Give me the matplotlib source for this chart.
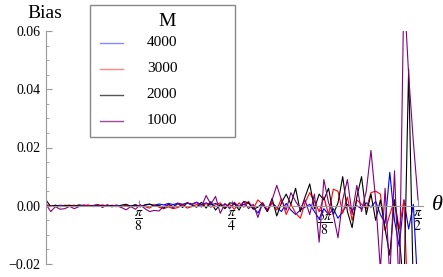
import numpy as np
import matplotlib
matplotlib.use('Agg')
import matplotlib.pyplot as plt
from matplotlib.patches import Rectangle
from matplotlib.lines import Line2D

plt.rcParams['font.family'] = ['Liberation Serif', 'DejaVu Serif']
plt.rcParams['mathtext.fontset'] = 'stix'

# bias values in units of 1e-3, 80 equally spaced angles from 0 to pi/2
bias_1000 = [0.5, -2.0, -0.3, -1.2, -1.0, -0.2, -1.0, -0.3, 0.2, -0.2,
             0.0, 0.4, -0.6, 0.3, -0.4, 0.2, -0.6, -1.4, -0.3, -1.2,
             0.4, -1.0, -2.0, -1.6, -1.8, -0.2, 0.3, -0.8, 0.8, 0.3,
             0.9, 0.4, 1.2, -0.4, 3.5, 0.5, 3.2, -2.6, 0.8, -1.0,
             1.2, -0.5, 1.5, -1.0, 0.5, -4.0, 1.0, -1.5, 2.0, 7.0,
             2.0, -1.5, 4.5, 1.5, -1.0, 2.0, -3.0, 4.0, -12.5, 9.0,
             1.0, -3.0, -11.0, 2.0, 9.0, -3.0, 7.0, -2.0, 5.0, 19.0,
             2.0, -22.0, 6.0, -25.0, 12.0, -30.0, 75.0, 45.0, 22.0, 2.0]
bias_2000 = [2.0, -0.3, 0.2, -0.3, 0.0, 0.2, -0.2, 0.3, 0.0, -0.2,
             0.1, 0.3, -0.1, 0.2, 0.0, -0.3, 0.2, 0.5, -0.2, 0.3,
             -0.4, 0.3, 0.6, -0.2, 0.2, -0.8, 0.5, -0.3, 0.8, -0.6,
             1.0, 0.2, -0.5, 1.2, -0.8, 1.4, -1.5, 0.5, -1.0, 1.0,
             0.8, -1.5, 1.5, 1.0, -1.2, -0.5, 1.0, -2.0, 2.5, -3.5,
             1.0, 4.0, 0.5, 6.0, -2.0, 3.0, 7.5, -1.0, 4.0, 2.0,
             6.0, -3.0, 1.0, 10.0, -2.0, -7.5, 3.0, 10.0, -3.0, 4.0,
             -5.0, 2.0, -8.0, -17.0, 2.0, -10.0, -30.0, 47.0, -30.0, -45.0]
bias_3000 = [0.3, -0.2, 0.1, -0.3, 0.2, 0.0, 0.2, -0.2, 0.1, 0.3,
             -0.3, 0.0, 0.3, -0.2, 0.2, -0.1, -0.5, 0.3, -0.3, 0.2,
             -0.2, -0.3, -0.8, 0.3, -0.5, -1.0, -0.4, -1.0, -0.6, 0.2,
             -0.8, -0.3, 0.5, -0.4, 0.8, -0.5, 0.3, 1.0, -0.8, 0.5,
             -1.2, 1.0, -0.5, 1.5, -1.0, 2.0, 0.5, -2.0, 1.0, -1.5,
             2.5, -3.0, 0.5, -2.5, -4.3, 1.0, 4.5, 1.5, -2.0, 3.0,
             -3.0, 5.7, 5.0, -2.6, 3.0, -5.0, 2.0, 0.5, -1.0, 4.5,
             5.0, 4.0, -8.5, -3.0, 2.0, -8.0, 2.0, -40.0, -60.0, -50.0]
bias_4000 = [0.3, 0.0, -0.2, 0.2, 0.0, -0.1, 0.1, 0.0, 0.2, -0.1,
             0.0, 0.2, -0.1, 0.1, 0.0, 0.2, -0.2, 0.1, 0.0, 0.3,
             -0.2, 0.2, 0.5, 0.2, 0.6, 0.3, 0.8, 0.4, 0.9, 0.5,
             1.0, 0.6, 1.2, 0.4, 1.0, 0.3, 0.8, -0.2, 0.5, -0.5,
             0.6, -0.2, 0.4, 1.0, -0.5, -2.5, 0.5, -1.5, 1.0, -0.5,
             -2.0, 0.8, -1.5, -3.0, -1.5, -0.5, 0.5, -2.0, -4.5, -1.0,
             -3.0, -1.0, -4.3, -2.0, 0.5, -1.5, 0.0, -1.0, 1.0, -0.5,
             1.5, -3.0, -6.0, 11.5, -5.0, -14.0, 2.0, -8.0, 0.5, -30.0]

series_labels = ['4000', '3000', '2000', '1000']
series_colors = ['#0000ff', '#ff0000', '#000000', '#800080']
legend_colors = ['#8888ff', '#ff8888', '#555555', '#9a4a9a']
series_data = [bias_4000, bias_3000, bias_2000, bias_1000]

theta = np.linspace(0, np.pi / 2, len(bias_1000))

fig = plt.figure(figsize=(4.43, 2.77), dpi=100)
ax = fig.add_axes([46 / 443, 13 / 277, 376.6 / 443, 233 / 277])

for vals, col in zip(series_data, series_colors):
    ax.plot(theta, np.array(vals) / 1000.0, color=col, lw=0.8)

ax.set_xlim(0, 1.59)
ax.set_ylim(-0.02, 0.06)
ax.set_axisbelow(True)

axis_col = '#999999'
for s in ['top', 'right']:
    ax.spines[s].set_visible(False)
ax.spines['left'].set_position(('data', 0))
ax.spines['bottom'].set_position(('data', 0))
ax.spines['left'].set_color(axis_col)
ax.spines['bottom'].set_color(axis_col)

ax.set_yticks([-0.02, 0.0, 0.02, 0.04, 0.06])
ax.set_yticklabels(['\u22120.02', '0.00', '0.02', '0.04', '0.06'])
ax.set_yticks(np.arange(-0.02, 0.0601, 0.005), minor=True)
ax.set_xticks([np.pi / 8, np.pi / 4, 3 * np.pi / 8, np.pi / 2])
ax.set_xticklabels([r'$\dfrac{\pi}{8}$', r'$\dfrac{\pi}{4}$',
                    r'$\dfrac{3\pi}{8}$', r'$\dfrac{\pi}{2}$'])
ax.tick_params(axis='y', which='major', direction='in', length=4, width=0.8,
               color=axis_col, labelsize=10, pad=4)
ax.tick_params(axis='y', which='minor', direction='in', length=2.5, width=0.6,
               color=axis_col)
ax.tick_params(axis='x', which='major', direction='in', length=4, width=0.8,
               color=axis_col, labelsize=10, pad=2)

fig.text(45 / 443, 1 - 13 / 277, 'Bias', fontsize=14, ha='center', va='center')
fig.text(437 / 443, 1 - 205 / 277, '\u03b8', fontsize=16, fontstyle='italic',
         ha='center', va='center')

# legend box
fig.add_artist(Rectangle((90 / 443, 1 - 137 / 277), 145 / 443, 132 / 277,
                         transform=fig.transFigure, facecolor='white',
                         edgecolor='#888888', lw=1.0))
fig.text(167 / 443, 1 - 22 / 277, 'M', fontsize=14, ha='center', va='center')
rows = [43, 69, 95, 121]
for lab, col, yy in zip(series_labels, legend_colors, rows):
    fy = 1 - yy / 277
    fig.add_artist(Line2D([100 / 443, 123 / 443], [fy, fy], color=col, lw=1.0,
                          transform=fig.transFigure))
    fig.text(162 / 443, fy, lab, fontsize=11, ha='center', va='center')

fig.savefig('out.png', dpi=100)
